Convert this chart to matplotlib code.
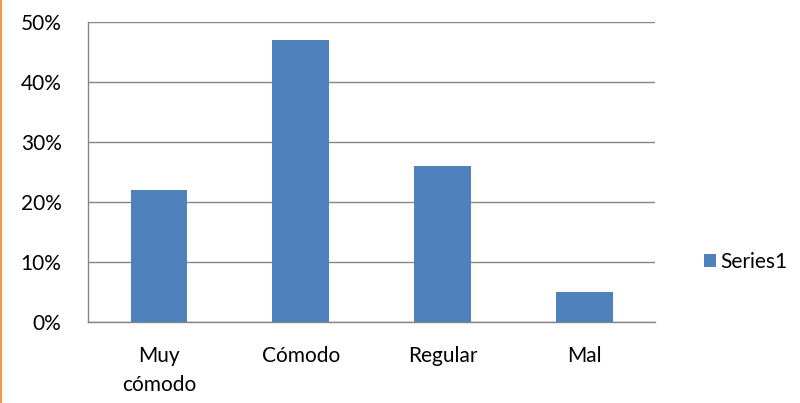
import matplotlib.pyplot as plt
from matplotlib.lines import Line2D
from matplotlib.patches import Patch

categories = ['Muy\ncómodo', 'Cómodo', 'Regular', 'Mal']
values = [0.22, 0.47, 0.26, 0.05]
yticks = [0, 0.1, 0.2, 0.3, 0.4, 0.5]
ytick_labels = ['0%', '10%', '20%', '30%', '40%', '50%']

plt.rcParams['font.family'] = ['Lato', 'DejaVu Sans']
plt.rcParams['font.size'] = 15

fig = plt.figure(figsize=(8, 4.03), dpi=100)
ax = fig.add_axes([0.11, 0.201, 0.709, 0.744])

x = range(len(categories))
ax.bar(x, values, width=0.4, color='#4F81BD', zorder=3)

ax.set_xlim(-0.5, 3.5)
ax.set_ylim(0, 0.5)
ax.set_yticks(yticks)
ax.set_yticklabels(ytick_labels)
ax.set_xticks(list(x))
ax.set_xticklabels(categories, linespacing=1.6)
ax.tick_params(length=0)
ax.tick_params(axis='y', pad=19)
ax.tick_params(axis='x', pad=17)

ax.grid(axis='y', color='#868686', linewidth=1, zorder=0)
for side in ['top', 'right']:
    ax.spines[side].set_visible(False)
for side in ['left', 'bottom']:
    ax.spines[side].set_color('#868686')
    ax.spines[side].set_linewidth(1)

handle = Patch(facecolor='#4F81BD', label='Series1')
fig.legend(handles=[handle], loc='center left', bbox_to_anchor=(0.862, 0.35),
           frameon=False, handlelength=0.55, handleheight=0.55, handletextpad=0.2,
           borderpad=0.2)

# orange border on the left edge
fig.add_artist(Line2D([0.001, 0.001], [0, 1], color='#F79646', linewidth=1.5,
                      transform=fig.transFigure))

fig.savefig('out.png', dpi=100)
